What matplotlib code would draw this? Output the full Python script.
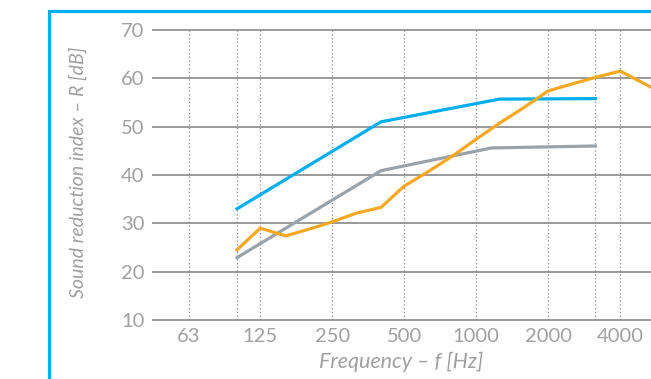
import numpy as np
import matplotlib
matplotlib.use("Agg")
import matplotlib.pyplot as plt
from matplotlib.patches import Rectangle
from matplotlib.ticker import FixedLocator, NullLocator

plt.rcParams['font.family'] = ['Lato', 'DejaVu Sans']

# third-octave band values read per curve (Hz, dB)
blue_f = [100, 400, 1250, 3150]
blue_r = [33.0, 51.0, 55.7, 55.8]

grey_f = [100, 400, 1160, 3150]
grey_r = [22.9, 40.9, 45.6, 46.0]

orange_f = [100, 125, 160, 200, 250, 315, 400, 500, 630, 800, 1000, 1250,
            1600, 2000, 2500, 3150, 4000, 5000, 6300]
orange_r = [24.5, 29.0, 27.4, 28.8, 30.3, 32.1, 33.3, 37.7, 40.7, 44.0, 47.4,
            50.7, 54.1, 57.4, 58.8, 60.2, 61.5, 59.0, 56.4]

octave_ticks = [63, 125, 250, 500, 1000, 2000, 4000]
grid_freqs = [63, 100, 125, 250, 500, 1000, 2000, 3150, 4000]
r_ticks = [10, 20, 30, 40, 50, 60, 70]

text_grey = "#a0a0a0"
cyan = "#00aeef"

W, H = 651, 379
fig = plt.figure(figsize=(W / 100, H / 100), dpi=100)

# 72 px per octave, axes running off the right edge
x_lo = 63 / np.sqrt(2)
x_hi = 8000
left_px, right_px = 153, 153 + 72 * np.log2(x_hi / x_lo)
top_px, bot_px = 30, 320
ax = fig.add_axes([left_px / W, 1 - bot_px / H,
                   (right_px - left_px) / W, (bot_px - top_px) / H])
ax.set_xscale("log")
ax.set_xlim(x_lo, x_hi)
ax.set_ylim(10, 70)
for s in ax.spines.values():
    s.set_visible(False)

for r in r_ticks:
    ax.axhline(r, color="#9a9a9a", lw=1.4, zorder=1, clip_on=False)
for f in grid_freqs:
    ax.axvline(f, color="#8a8a8a", lw=0.9, ls=(0, (1, 2)), zorder=1)

ax.plot(grey_f, grey_r, color="#9aa3a9", lw=2.3, zorder=3)
ax.plot(blue_f, blue_r, color="#00aeef", lw=2.3, zorder=3)
ax.plot(orange_f, orange_r, color="#f7a823", lw=2.3, zorder=4)

ax.xaxis.set_major_locator(FixedLocator(octave_ticks))
ax.xaxis.set_minor_locator(NullLocator())
ax.set_xticklabels([str(f) for f in octave_ticks])
ax.set_yticks(r_ticks)
ax.tick_params(axis="both", length=0, labelsize=14.5, labelcolor=text_grey)
ax.tick_params(axis="x", pad=6)
ax.tick_params(axis="y", pad=6)

fig.text(401 / W, 1 - 362 / H, "Frequency – f [Hz]", ha="center", va="center",
         fontsize=15.5, style="italic", color=text_grey)
fig.text(78 / W, 1 - 172 / H, "Sound reduction index – R [dB]", ha="center",
         va="center", rotation=90, fontsize=14, style="italic",
         color=text_grey)

# cyan frame around the panel
frame = Rectangle((48.5 / W, -0.2), 1.5, 0.2 + 1 - 11 / H, fill=False,
                  edgecolor=cyan, lw=2.3, transform=fig.transFigure)
fig.patches.append(frame)

fig.savefig("out.png", dpi=100)
